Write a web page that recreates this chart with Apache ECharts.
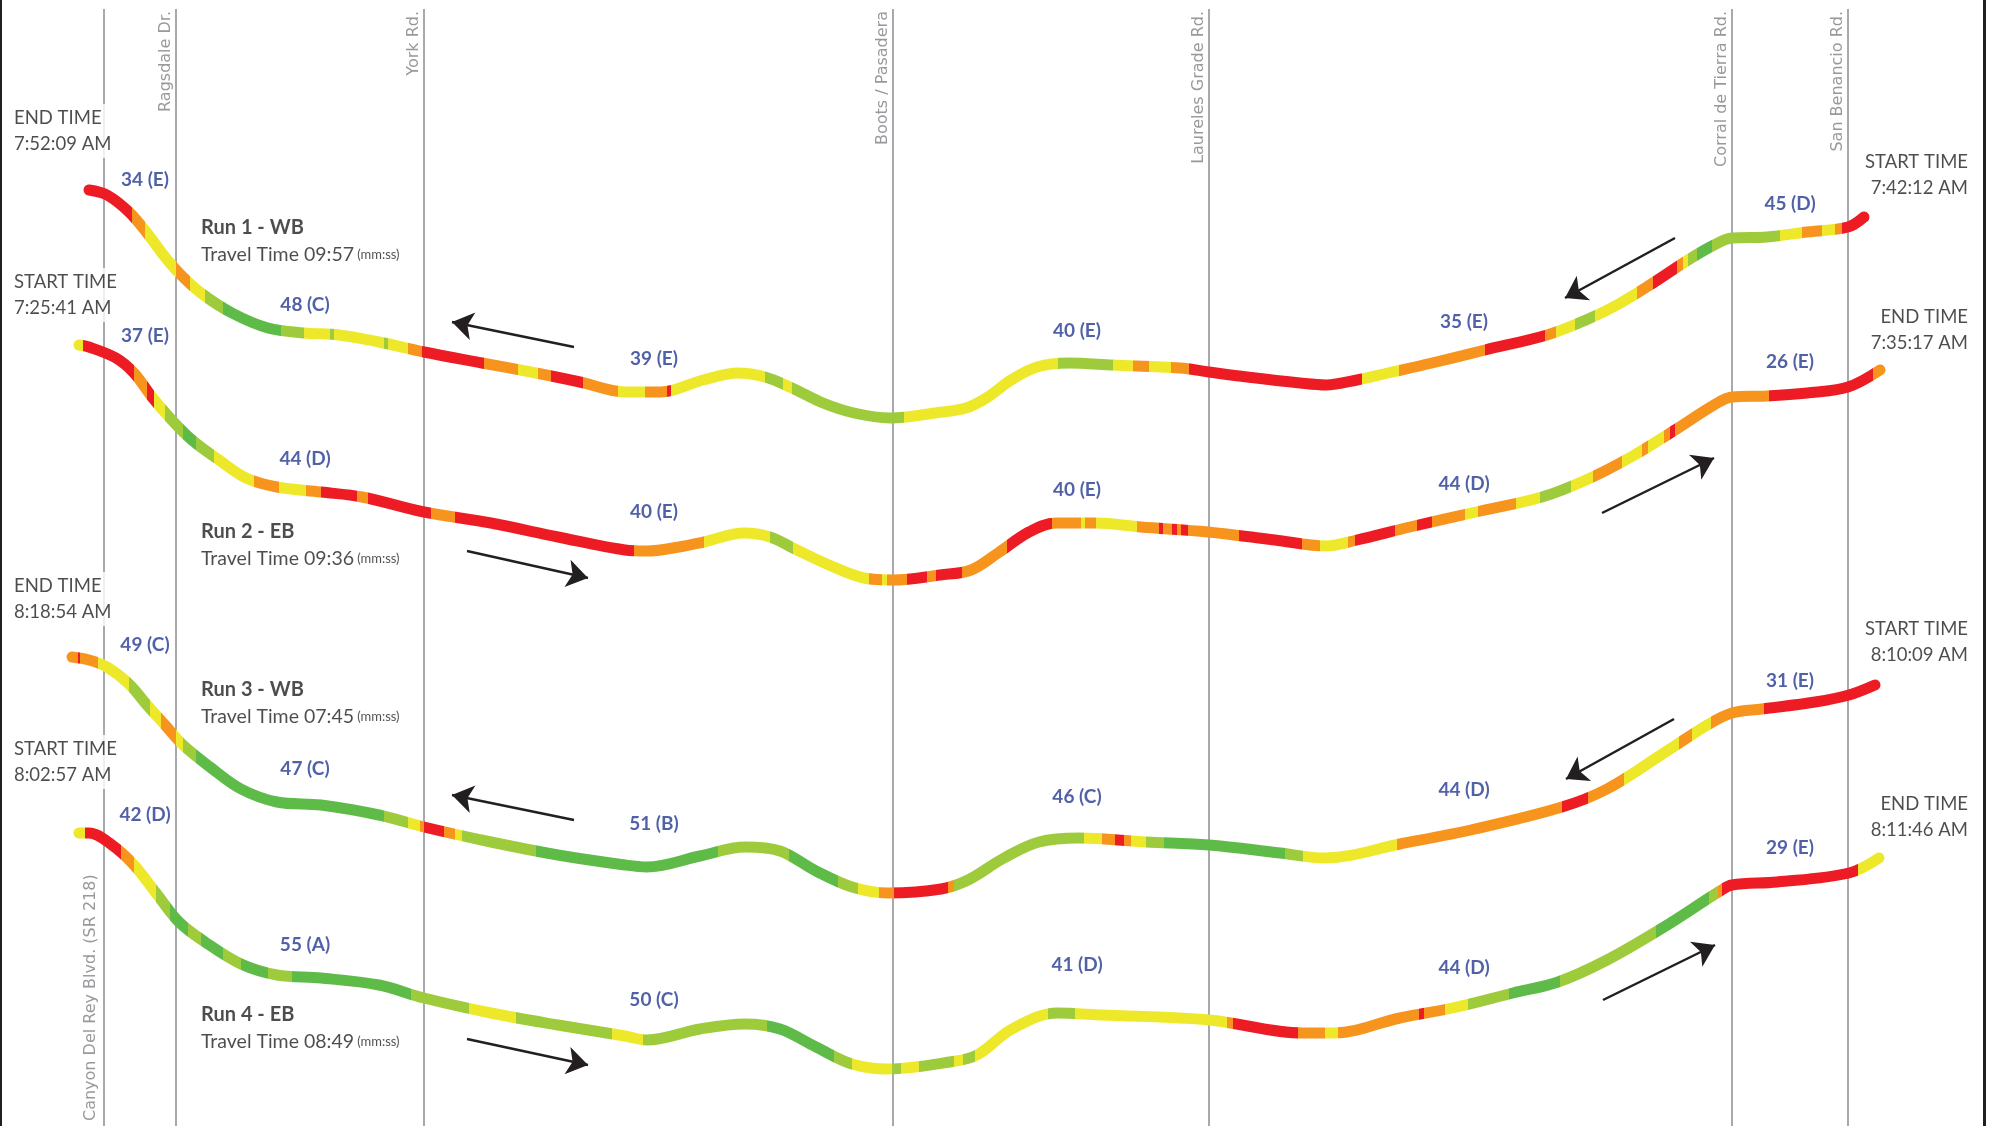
<!DOCTYPE html>
<html><head><meta charset="utf-8">
<script src="https://cdn.jsdelivr.net/npm/echarts@6/dist/echarts.min.js"></script>
<style>html,body{margin:0;padding:0;background:#fff}#c{width:1991px;height:1126px}</style>
</head><body><div id="c"></div>
<script>
// ---------- cross streets ----------
const streetNames = ['Canyon Del Rey Blvd. (SR 218)', 'Ragsdale Dr.', 'York Rd.', 'Boots / Pasadera', 'Laureles Grade Rd.', 'Corral de Tierra Rd.', 'San Benancio Rd.'];
const streetX = [104, 176, 424, 893, 1209, 1732, 1848];

// ---------- run traces (position along corridor, drawn profile) ----------
const run1X = [89,107,129,147,165,179,201,232,268,304,339,379,424,482,536,580,625,661,703,738,765,792,823,854,890,935,966,988,1011,1037,1069,1113,1180,1209,1247,1300,1326,1357,1388,1432,1485,1547,1586,1617,1653,1688,1714,1732,1767,1807,1848,1864];
const run1Y = [190,195,212,233,257,273,293,313,328,333,335,342,352,363,373,382,392,392,380,373,377,388,403,413,418,413,408,397,380,367,363,365,368,372,377,383,385,380,373,363,350,335,320,305,283,260,245,238,237,232,227,217];
const run2X = [79,89,116,134,152,170,192,219,246,277,321,362,424,491,558,625,647,679,704,744,770,797,829,864,893,940,971,998,1029,1056,1096,1141,1208,1275,1326,1357,1410,1476,1542,1586,1631,1675,1714,1732,1767,1807,1848,1880];
const run2Y = [345,347,358,373,397,418,440,460,478,487,492,497,512,523,537,550,551,547,542,533,537,550,565,578,580,575,570,553,532,523,523,527,532,540,546,540,527,512,497,480,457,430,405,397,396,393,387,370];
const run3X = [72,89,107,129,147,165,183,210,241,277,321,379,424,491,558,625,647,700,745,780,816,852,888,941,968,1004,1039,1079,1146,1209,1280,1325,1400,1475,1562,1607,1664,1709,1732,1762,1815,1849,1875];
const run3Y = [657,660,667,684,705,725,745,767,789,802,805,815,827,842,855,865,867,856,847,851,871,887,893,889,880,858,842,838,842,845,853,858,844,829,807,789,753,724,713,709,702,695,685];
const run4X = [79,89,112,134,156,179,205,241,277,321,379,424,491,558,625,647,700,745,780,816,852,888,950,977,1012,1057,1102,1209,1303,1334,1400,1457,1513,1558,1607,1664,1720,1732,1777,1849,1879];
const run4Y = [833,833,845,865,893,922,942,964,975,978,985,998,1013,1025,1036,1040,1029,1024,1029,1047,1064,1069,1062,1055,1029,1013,1015,1020,1033,1033,1018,1007,993,982,960,927,891,885,882,873,858];

// ---------- speed bands along each run (start position of band, band class) ----------
// R slowest ... G fastest
const run1Breaks = [0,132,145,176,190,205,223,281,304,330,334,384,388,408,422,484,518,538,551,583,618,645,667,671,765,783,792,904,1058,1113,1133,1149,1171,1189,1362,1399,1485,1545,1556,1575,1595,1637,1653,1677,1683,1688,1697,1712,1780,1802,1822,1835,1842];
const run1Bands  = ['R','O','Y','O','Y','L','G','L','Y','L','Y','L','Y','O','R','O','Y','O','R','O','Y','O','R','Y','L','Y','L','Y','L','Y','O','Y','O','R','Y','O','R','O','Y','L','Y','O','R','O','Y','L','G','L','Y','O','Y','O','R'];
const run2Breaks = [0,83,134,147,154,165,183,196,214,254,279,306,321,357,368,431,455,634,704,770,793,869,882,887,907,927,936,962,1007,1052,1081,1085,1096,1137,1159,1163,1172,1177,1181,1188,1239,1302,1320,1348,1355,1395,1417,1432,1465,1478,1516,1540,1571,1593,1622,1642,1648,1664,1670,1675,1769,1873];
const run2Bands  = ['Y','R','O','R','Y','L','G','L','Y','O','Y','O','R','O','R','O','R','O','Y','L','Y','O','Y','O','R','O','R','O','R','O','Y','O','Y','O','R','O','R','O','R','O','R','O','Y','O','R','O','R','O','Y','O','Y','L','Y','O','Y','O','Y','O','R','O','R','O'];
const run3Breaks = [0,78,80,98,129,150,161,176,183,196,384,408,420,424,444,455,462,536,718,789,838,858,879,894,948,954,1084,1102,1115,1124,1131,1146,1164,1285,1303,1397,1562,1588,1624,1679,1692,1711,1764];
const run3Bands  = ['O','R','O','Y','L','Y','O','Y','L','G','L','Y','O','R','O','Y','L','G','L','G','L','Y','O','R','O','L','Y','O','R','O','Y','L','G','L','Y','O','R','O','Y','O','Y','O','R'];
const run4Breaks = [0,85,121,134,156,170,188,201,223,241,268,292,411,469,516,612,643,767,834,852,892,901,919,954,963,975,1048,1075,1227,1233,1298,1325,1338,1419,1424,1445,1468,1509,1560,1656,1709,1718,1722,1858];
const run4Bands  = ['Y','R','O','Y','L','G','L','G','L','G','L','G','L','Y','L','Y','L','G','L','Y','L','Y','L','Y','L','Y','L','Y','O','R','O','Y','O','R','O','Y','L','G','L','G','L','O','R','Y'];

// ---------- section averages ----------
const run1Speed = [34,48,39,40,35,45]; const run1LOS = ['E','C','E','E','E','D'];
const run2Speed = [37,44,40,40,44,26]; const run2LOS = ['E','D','E','E','D','E'];
const run3Speed = [49,47,51,46,44,31]; const run3LOS = ['C','C','B','C','D','E'];
const run4Speed = [42,55,50,41,44,29]; const run4LOS = ['D','A','C','D','D','E'];

// ---------- run facts ----------
const runNames = ['Run 1','Run 2','Run 3','Run 4'];
const runDir = ['WB','EB','WB','EB'];
const runTravel = ['09:57','09:36','07:45','08:49'];
const runStart = ['7:42:12 AM','7:25:41 AM','8:10:09 AM','8:02:57 AM'];
const runEnd = ['7:52:09 AM','7:35:17 AM','8:18:54 AM','8:11:46 AM'];

// ---------- annotation placement ----------
const sectionLabelX = [145,305,654,1077,1464,1790];
const run1LabelY = [180,305,359,331,322,204];
const run2LabelY = [336,459,512,490,484,362];
const run3LabelY = [645,769,824,797,790,681];
const run4LabelY = [815,945,1000,965,968,848];
const titleY = [241,545,703,1028];
const leftBlockY = [131,295,599,762];   // WB end / EB start at west side
const rightBlockY = [175,330,642,817];  // WB start / EB end at east side
const arrowSegs = [
  [[574,347],[452,322]], [[1675,238],[1565,298]],
  [[467,551],[588,578]], [[1602,513],[1714,458]],
  [[574,820],[452,795]], [[1674,719],[1566,779]],
  [[467,1039],[588,1065]], [[1603,1000],[1715,945]]
];

// ---------- styles ----------
const BAND_COLORS = {R:'#ED1C24', O:'#F7941D', Y:'#EEE82A', L:'#9DCB3C', G:'#5EBB47'};
const TEXT = '#231F20', BLUE = '#263A92', STREET = '#A7A9AC', STREET_TXT = '#7E8083';
const SANS = 'Lato, "Open Sans", sans-serif';

const runsX = [run1X,run2X,run3X,run4X];
const runsY = [run1Y,run2Y,run3Y,run4Y];
const runsBreaks = [run1Breaks,run2Breaks,run3Breaks,run4Breaks];
const runsBands = [run1Bands,run2Bands,run3Bands,run4Bands];
const runsSpeed = [run1Speed,run2Speed,run3Speed,run4Speed];
const runsLOS = [run1LOS,run2LOS,run3LOS,run4LOS];
const runsLabelY = [run1LabelY,run2LabelY,run3LabelY,run4LabelY];

const chart = echarts.init(document.getElementById('c'));

const series = [];
const visualMaps = [];
runsX.forEach((xs, r) => {
  series.push({
    type: 'line', name: runNames[r], smooth: 0.35, showSymbol: false, clip: false, z: 5,
    data: xs.map((x, i) => [x, runsY[r][i]]),
    lineStyle: { width: 11, cap: 'round', join: 'round' },
    silent: true, animation: false
  });
  const b = runsBreaks[r];
  visualMaps.push({
    type: 'piecewise', show: false, dimension: 0, seriesIndex: r,
    pieces: b.map((v, i) => ({ gte: v, lt: i < b.length - 1 ? b[i + 1] : 2000, color: BAND_COLORS[runsBands[r][i]] })),
    outOfRange: { color: '#999' }
  });
});

// street lines
series.push({
  type: 'lines', coordinateSystem: 'cartesian2d', z: 1, silent: true, animation: false,
  lineStyle: { color: STREET, width: 2, opacity: 1 },
  data: streetX.map(x => ({ coords: [[x, 9], [x, 1126]] }))
});

function txt(x, y, text, lab) {
  return { value: [x, y], label: Object.assign({ show: true, formatter: text, position: 'inside' }, lab) };
}
const textData = [];
// street names
streetNames.forEach((n, i) => {
  if (i === 0) {
    textData.push(txt(streetX[i] - 13, 1121, n, { rotate: 90, align: 'left', verticalAlign: 'middle', fontFamily: '"DejaVu Sans", sans-serif', fontSize: 16, color: STREET_TXT }));
  } else {
    textData.push(txt(streetX[i] - 10, 11, n, { rotate: 90, align: 'right', verticalAlign: 'middle', fontFamily: '"DejaVu Sans", sans-serif', fontSize: 16, color: STREET_TXT }));
  }
});
// section averages
runsSpeed.forEach((sp, r) => {
  sp.forEach((v, k) => {
    textData.push(txt(sectionLabelX[k], runsLabelY[r][k], v + ' (' + runsLOS[r][k] + ')', { align: 'center', verticalAlign: 'middle', fontFamily: SANS, fontWeight: 'bold', fontSize: 19, color: BLUE }));
  });
});
// run titles
runNames.forEach((n, r) => {
  textData.push(txt(201, titleY[r], '{b|' + n + ' - ' + runDir[r] + '}\n{t|Travel Time ' + runTravel[r] + '} {s|(mm:ss)}', {
    align: 'left', verticalAlign: 'middle', color: TEXT, fontFamily: SANS,
    rich: { b: { fontFamily: SANS, fontWeight: 'bold', fontSize: 20, color: TEXT, lineHeight: 27 },
            t: { fontFamily: SANS, fontSize: 19.5, color: TEXT, lineHeight: 27 },
            s: { fontFamily: SANS, fontSize: 13, color: TEXT, lineHeight: 27 } }
  }));
});
// start / end blocks
runNames.forEach((n, r) => {
  const west = runDir[r] === 'WB' ? 'END TIME\n' + runEnd[r] : 'START TIME\n' + runStart[r];
  const east = runDir[r] === 'WB' ? 'START TIME\n' + runStart[r] : 'END TIME\n' + runEnd[r];
  textData.push(txt(14, leftBlockY[r], west, { align: 'left', verticalAlign: 'middle', fontFamily: SANS, fontSize: 18.5, lineHeight: 26, color: TEXT, backgroundColor: '#fff', padding: [1, 6, 1, 0] }));
  textData.push(txt(1968, rightBlockY[r], east, { align: 'right', verticalAlign: 'middle', fontFamily: SANS, fontSize: 18.5, lineHeight: 26, color: TEXT }));
});
series.push({
  type: 'scatter', z: 10, silent: true, animation: false, symbolSize: 1,
  itemStyle: { color: 'rgba(0,0,0,0)' }, data: textData
});
// direction arrows
series.push({
  type: 'lines', coordinateSystem: 'cartesian2d', z: 8, silent: true, animation: false,
  symbol: ['none', 'arrow'], symbolSize: 21,
  lineStyle: { color: TEXT, width: 2.5, opacity: 1 },
  data: arrowSegs.map(s => ({ coords: s }))
});

chart.setOption({
  animation: false,
  backgroundColor: '#fff',
  grid: { left: 0, right: 0, top: 0, bottom: 0 },
  xAxis: { type: 'value', min: 0, max: 1991, show: false },
  yAxis: { type: 'value', min: 0, max: 1126, inverse: true, show: false },
  visualMap: visualMaps,
  graphic: [
    { type: 'rect', shape: { x: 0, y: 0, width: 2, height: 1126 }, style: { fill: '#231F20' }, z: 100 },
    { type: 'rect', shape: { x: 1983, y: 0, width: 3, height: 1126 }, style: { fill: '#231F20' }, z: 100 }
  ],
  series: series
});
</script></body></html>
